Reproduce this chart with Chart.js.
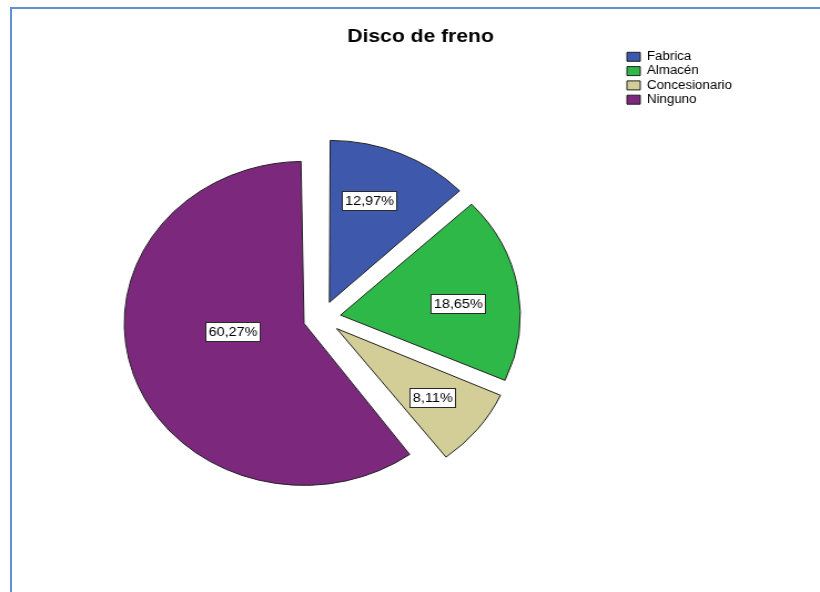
<!DOCTYPE html>
<html lang="es">
<head>
<meta charset="utf-8">
<title>Disco de freno</title>
<script src="https://cdn.jsdelivr.net/npm/chart.js@4/dist/chart.umd.min.js"></script>
<style>
  html, body { margin: 0; padding: 0; background: #ffffff; }
  body { width: 820px; height: 592px; position: relative; overflow: hidden; }
  .frame {
    position: absolute; left: 10px; top: 7px; right: -20px; bottom: -20px;
    border-top: 2px solid #5f91d3; border-left: 2px solid #5f91d3;
  }
  #chart { position: absolute; left: 0; top: 0; }
</style>
</head>
<body>
<div class="frame"></div>
<canvas id="chart" width="739" height="592" style="width:820px;height:592px;"></canvas>
<script>
// Disco de freno: distribución por procedencia (porcentajes)
const categories = ['Fabrica', 'Almacén', 'Concesionario', 'Ninguno'];
const percentages = [12.97, 18.65, 8.11, 60.27];
const sliceColors = ['#3e58ac', '#2eb848', '#d3ce97', '#7c287d'];

const FONT = "Arial, 'Liberation Sans', Helvetica, sans-serif";
const RADIUS = 162;        // pie radius in px
const EXPLODE = 17;        // px each slice is pulled out from the centre

const formatPct = v => v.toFixed(2).replace('.', ',') + '%';

// Chart.js shifts an arc by offset/4 and also widens narrow arcs by
// (offset/4) * (1 - sin(circumference)); undo the widening so every
// slice keeps the same radius.
const evenRadius = {
  id: 'evenRadius',
  afterDatasetUpdate(chart, args) {
    args.meta.data.forEach(arc => {
      const circ = arc.endAngle - arc.startAngle;
      const fix = 1 - Math.sin(Math.min(Math.PI, circ));
      arc.outerRadius = RADIUS - EXPLODE * fix;
    });
  }
};

// Heading drawn above the plot, centred on the whole frame
const headingPlugin = {
  id: 'heading',
  afterDraw(chart, args, opts) {
    const { ctx } = chart;
    ctx.save();
    ctx.font = 'bold 19px ' + FONT;
    ctx.fillStyle = '#000';
    ctx.textAlign = 'center';
    ctx.textBaseline = 'alphabetic';
    ctx.fillText(opts.text, opts.x, opts.y);
    ctx.restore();
  }
};

// Boxed percentage labels inside each slice
const boxedLabels = {
  id: 'boxedLabels',
  afterDatasetsDraw(chart, args, opts) {
    const { ctx } = chart;
    const meta = chart.getDatasetMeta(0);
    const values = chart.data.datasets[0].data;
    ctx.save();
    ctx.font = '13px ' + FONT;
    ctx.textAlign = 'center';
    ctx.textBaseline = 'middle';
    meta.data.forEach((arc, i) => {
      const { x, y, startAngle, endAngle } = arc.getProps(['x', 'y', 'startAngle', 'endAngle'], true);
      const half = (startAngle + endAngle) / 2;
      const place = opts.placement[i];
      const ax = x + Math.cos(half) * EXPLODE;
      const ay = y + Math.sin(half) * EXPLODE;
      const a = half + place.turn * Math.PI / 180;
      const lx = ax + Math.cos(a) * RADIUS * place.r;
      const ly = ay + Math.sin(a) * RADIUS * place.r;
      const text = formatPct(values[i]);
      const w = Math.round(ctx.measureText(text).width + 5);
      const h = 19;
      const bx = Math.round(lx - w / 2) + 0.5;
      const by = Math.round(ly - h / 2) + 0.5;
      ctx.fillStyle = '#ffffff';
      ctx.fillRect(bx, by, w, h);
      ctx.strokeStyle = '#2a2a2a';
      ctx.lineWidth = 1;
      ctx.strokeRect(bx, by, w, h);
      ctx.fillStyle = '#000';
      ctx.fillText(text, bx + w / 2, by + h / 2 + 0.5);
    });
    ctx.restore();
  }
};

new Chart(document.getElementById('chart'), {
  type: 'pie',
  data: {
    labels: categories,
    datasets: [{
      data: percentages,
      backgroundColor: sliceColors,
      borderColor: '#222222',
      borderWidth: 1,
      radius: RADIUS,
      offset: EXPLODE * 4,
      hoverOffset: 0
    }]
  },
  options: {
    responsive: false,
    animation: false,
    devicePixelRatio: 1,
    layout: { padding: { left: 17.5, right: 76.3, top: 48.5, bottom: 4.5 } },
    plugins: {
      title: { display: false },
      tooltip: { enabled: false },
      legend: {
        position: 'right',
        align: 'start',
        maxWidth: 100,
        labels: {
          boxWidth: 12,
          boxHeight: 9,
          padding: 2.3,
          color: '#000',
          font: { family: FONT, size: 12 }
        }
      },
      heading: { text: 'Disco de freno', x: 379, y: 42 },
      boxedLabels: {
        placement: [
          { r: 0.664, turn: -4 },
          { r: 0.658, turn: 3.6 },
          { r: 0.681, turn: 0 },
          { r: 0.40, turn: 11.5 }
        ]
      }
    }
  },
  plugins: [evenRadius, headingPlugin, boxedLabels]
});
</script>
</body>
</html>
